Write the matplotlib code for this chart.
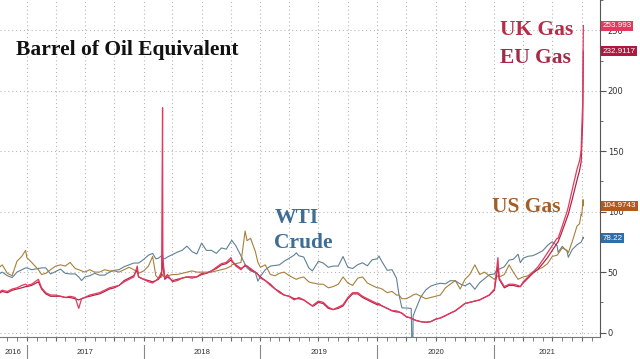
import pandas as pd
import matplotlib
matplotlib.use("Agg")
from matplotlib import pyplot as plt
import matplotlib.dates as mdates
import matplotlib.ticker as ticker
import matplotlib.transforms as mtransforms

# ---------------- data ($ per barrel of oil equivalent) -------------
dates = pd.to_datetime([
    # 2016
    "2016-10-03", "2016-10-16", "2016-11-01", "2016-11-16", "2016-12-01", "2016-12-16", "2016-12-28",
    # 2017
    "2017-01-01", "2017-01-16", "2017-02-06", "2017-02-16", "2017-03-01", "2017-03-16", "2017-04-01",
    "2017-04-16", "2017-05-01", "2017-05-16", "2017-06-01", "2017-06-12", "2017-06-21", "2017-07-01",
    "2017-07-16", "2017-08-01", "2017-08-16", "2017-09-01", "2017-09-16", "2017-10-01", "2017-10-16",
    "2017-11-01", "2017-11-16", "2017-12-01", "2017-12-12", "2017-12-16",
    # 2018
    "2018-01-01", "2018-01-16", "2018-01-29", "2018-02-08", "2018-02-16", "2018-02-26", "2018-03-01",
    "2018-03-02", "2018-03-08", "2018-03-16", "2018-04-01", "2018-04-16", "2018-05-01", "2018-05-16",
    "2018-06-01", "2018-06-16", "2018-07-01", "2018-07-16", "2018-08-01", "2018-08-16", "2018-09-01",
    "2018-09-16", "2018-10-01", "2018-10-03", "2018-10-16", "2018-11-01", "2018-11-14", "2018-11-20",
    "2018-12-01", "2018-12-16", "2018-12-24",
    # 2019
    "2019-01-01", "2019-01-16", "2019-02-01", "2019-02-16", "2019-03-01", "2019-03-16", "2019-04-01",
    "2019-04-16", "2019-04-23", "2019-05-01", "2019-05-16", "2019-06-01", "2019-06-12", "2019-06-16",
    "2019-07-01", "2019-07-16", "2019-08-01", "2019-08-16", "2019-09-01", "2019-09-16", "2019-10-01",
    "2019-10-16", "2019-11-01", "2019-11-16", "2019-12-01", "2019-12-16",
    # 2020
    "2020-01-01", "2020-01-06", "2020-01-16", "2020-02-01", "2020-02-16", "2020-03-01", "2020-03-09",
    "2020-03-18", "2020-04-01", "2020-04-16", "2020-04-20", "2020-04-22", "2020-05-01", "2020-05-16",
    "2020-06-01", "2020-06-16", "2020-07-01", "2020-07-16", "2020-08-01", "2020-08-16", "2020-09-01",
    "2020-09-16", "2020-10-01", "2020-10-16", "2020-11-01", "2020-11-16", "2020-12-01", "2020-12-16",
    # 2021
    "2021-01-01", "2021-01-12", "2021-01-16", "2021-02-01", "2021-02-16", "2021-03-01", "2021-03-16",
    "2021-03-23", "2021-04-01", "2021-04-16", "2021-05-01", "2021-05-16", "2021-06-01", "2021-06-16",
    "2021-07-01", "2021-07-16", "2021-07-19", "2021-08-01", "2021-08-16", "2021-08-20", "2021-09-01",
    "2021-09-16", "2021-09-24", "2021-09-29", "2021-10-01", "2021-10-04", "2021-10-05", "2021-10-06",
])

wti = [
    48, 50, 47, 45.5, 50, 52, 53.5,
    53.5, 52, 53, 53.5, 53.5, 48.5, 50.5, 52.5, 49, 48.5, 48.5, 46, 43, 46,
    47, 49, 47.5, 47.5, 50, 51.5, 52, 54.5, 56, 57.5, 57.5, 57.5,
    60.5, 64, 65.5, 61, 61.5, 63.5, 61.5, 61.3, 61, 62.5, 64.5, 66.5, 68, 71.5,
    67, 65, 74, 68, 68, 65.5, 70, 69, 75.3, 76.4, 71.8, 63.5, 56.2, 53.5, 51, 49.5, 42.5,
    46.5, 52, 55, 55.5, 56, 59, 61.5, 64, 66, 63.5, 62.5, 53.5, 51, 52.5,
    59, 57.5, 54, 55, 55, 62.9, 54, 53, 56.2, 57.7, 55.2, 60.2,
    61, 63.3, 58.5, 51.5, 52, 45, 31.1, 20.4, 20.3, 19.9, -37.6, 13.8, 19.8, 29.5,
    35.4, 38.4, 39.8, 40.8, 40.3, 42.9, 42.8, 40.2, 38.7, 40.9, 35.8, 41.3, 44.6, 47.8,
    48.5, 53.2, 52.4, 54.5, 60, 60.6, 64.8, 57.8, 61.5, 63.1, 63.6, 65.4, 67.7, 72.1,
    75.2, 71.8, 66.4, 71.3, 67.3, 62.3, 68.6, 72.6, 73.9, 74.8, 75.9, 77.6, 78.9, 78.22,
]

us_gas = [
    53, 56, 49, 47, 59, 63, 68,
    62, 58, 52, 48, 49, 52, 55, 56, 55, 58, 53, 52, 51, 50,
    52, 50, 50, 52, 51, 51, 50, 52, 54, 52, 50, 49,
    51, 55, 63, 47, 45, 46, 48, 47, 46, 47, 48, 48, 49, 50,
    51, 50, 50, 50, 50, 51, 52, 53, 55, 56, 57, 58, 84, 76, 78, 67, 58,
    54, 56, 48, 47, 49, 50, 47, 45, 44, 45, 46, 42, 41, 41,
    40, 40, 37, 38, 40, 46, 41, 39, 45, 46, 41, 39,
    37, 37, 36, 33, 34, 31, 31, 28, 28, 30, 31, 31, 32, 30,
    28, 29, 30, 31, 37, 40, 43, 36, 44, 48, 56, 48, 50, 47,
    44, 47, 46, 48, 56, 50, 44, 45, 46, 47, 50, 52, 54, 57,
    63, 64, 65, 70, 68, 66, 75, 88, 90, 98, 97, 106, 110, 104.9743,
]

uk_gas = [
    33, 35, 34, 36, 37, 39, 40,
    39, 40, 44, 37, 33, 31, 31, 30, 29, 30, 29, 20, 28, 29,
    31, 32, 33, 35, 37, 38, 39, 42, 44, 46, 55, 46,
    44, 42, 41, 43, 45, 50, 186, 62, 45, 48, 42, 43, 45, 46,
    45, 46, 49, 49, 51, 54, 57, 58, 62, 60, 55, 52, 56, 55, 53, 50, 48,
    45, 43, 39, 36, 33, 31, 30, 27, 28, 29, 27, 24, 22, 23,
    26, 25, 21, 19, 21, 23, 29, 33, 33, 30, 28, 26,
    24, 24, 22, 20, 18, 18, 17, 16, 13, 12, 11, 11, 10, 9,
    8.5, 9, 11, 12, 14, 16, 18, 21, 24, 25, 26, 27, 29, 31,
    36, 62, 45, 38, 40, 40, 39, 38, 42, 46, 50, 54, 60, 66,
    72, 78, 78, 88, 100, 104, 118, 135, 142, 150, 168, 190, 222, 253.993,
]

eu_gas = [
    32, 34, 33, 35, 36, 37, 38,
    38, 39, 42, 36, 32, 30, 30, 30, 29, 29, 28, 27, 28, 29,
    30, 31, 32, 34, 36, 37, 39, 43, 45, 47, 52, 46,
    44, 43, 42, 43, 44, 48, 64, 55, 44, 46, 43, 44, 45, 46,
    46, 46, 48, 49, 51, 53, 56, 57, 60, 59, 56, 53, 55, 55, 52, 50, 48,
    46, 43, 40, 36, 34, 31, 30, 28, 28, 28, 27, 24, 22, 22,
    25, 24, 20, 19, 20, 22, 28, 32, 32, 29, 27, 25,
    23, 23, 22, 20, 18, 17, 17, 16, 13, 12, 11, 11, 10, 9,
    8.5, 9, 11, 12, 14, 16, 18, 21, 24, 25, 26, 27, 29, 31,
    35, 55, 44, 37, 39, 39, 38, 38, 41, 45, 49, 52, 57, 62,
    68, 74, 75, 84, 95, 98, 110, 126, 134, 141, 155, 176, 205, 232.9117,
]

years = ["2016", "2017", "2018", "2019", "2020", "2021"]
last_labels = ["253.993", "232.9117", "104.9743", "78.22"]

# colours
c_uk = "#e23a5e"
c_eu = "#b3244a"
c_us = "#a8803a"
c_wti = "#5f8196"

# -- Plot ----------------------------------------------------------------------
fig = plt.figure(figsize=(6.4, 3.59), dpi=100, facecolor="white")
ax = fig.add_axes([0, 22 / 359, 600 / 640, 337 / 359])

x0, x1 = pd.Timestamp("2016-10-09"), pd.Timestamp("2021-11-27")
ax.set_xlim(x0, x1)
ax.set_ylim(-3.7, 275.2)

ax.plot(dates, wti, color=c_wti, lw=0.8, zorder=3)
ax.plot(dates, us_gas, color=c_us, lw=0.8, zorder=3)
ax.plot(dates, eu_gas, color=c_eu, lw=0.9, zorder=4)
ax.plot(dates, uk_gas, color=c_uk, lw=0.9, zorder=5)

# grid + ticks
ax.xaxis.set_major_locator(mdates.MonthLocator(bymonth=[1, 4, 7, 10]))
ax.xaxis.set_minor_locator(mdates.MonthLocator())
ax.yaxis.set_major_locator(ticker.MultipleLocator(50))
ax.yaxis.set_minor_locator(ticker.MultipleLocator(25))
ax.grid(True, which="major", color="#b8b8b8", linestyle=(0, (1, 2.5)), linewidth=0.8)
ax.set_axisbelow(True)

ax.yaxis.tick_right()
ax.tick_params(axis="y", which="major", length=4, direction="out", pad=1.5,
               labelsize=6, labelcolor="#333333", color="#555555")
ax.tick_params(axis="y", which="minor", length=2, direction="out", color="#555555")
ax.tick_params(axis="x", which="both", length=3, direction="out", color="#666666",
               labelbottom=False)

for s in ["top", "left"]:
    ax.spines[s].set_visible(False)
ax.spines["bottom"].set_color("#777777")
ax.spines["right"].set_color("#555555")
ax.spines["bottom"].set_linewidth(0.8)
ax.spines["right"].set_linewidth(0.8)

# year labels and separators below the axis
trans = mtransforms.blended_transform_factory(ax.transData, ax.transAxes)
for yr in years:
    start = max(pd.Timestamp(f"{yr}-01-01"), x0)
    end = min(pd.Timestamp(f"{int(yr) + 1}-01-01"), x1)
    mid = start + (end - start) / 2
    ax.text(mid, -0.045, yr, transform=trans, ha="center", va="center",
            fontsize=5.5, color="#333333", family="Liberation Sans")
    if pd.Timestamp(f"{yr}-01-01") > x0:
        ax.plot([pd.Timestamp(f"{yr}-01-01")] * 2, [-0.024, -0.07], transform=trans,
                color="#888888", lw=0.8, clip_on=False)

# last value boxes on the right axis
trans_r = mtransforms.blended_transform_factory(ax.transAxes, ax.transData)
for val, txt, col in zip([uk_gas[-1], eu_gas[-1], us_gas[-1], wti[-1]], last_labels,
                         [c_uk, "#b0183f", "#b5581c", "#2f6ea8"]):
    ax.text(1.004, val, txt, transform=trans_r, ha="left", va="center", fontsize=5.8,
            family="Liberation Sans", color="white", clip_on=False, zorder=10,
            bbox=dict(boxstyle="square,pad=0.2", fc=col, ec="none"))

# annotations
serif = dict(family="Liberation Serif", weight="bold", fontsize=15.5)
fig.text(16 / 640, 1 - 55 / 359, "Barrel of Oil Equivalent", color="#111111",
         va="baseline", ha="left", **serif)
fig.text(500 / 640, 1 - 35 / 359, "UK Gas", color="#b52d4b", va="baseline", ha="left", **serif)
fig.text(500 / 640, 1 - 63 / 359, "EU Gas", color="#a52a48", va="baseline", ha="left", **serif)
fig.text(492 / 640, 1 - 212 / 359, "US Gas", color="#a35d27", va="baseline", ha="left", **serif)
fig.text(275 / 640, 1 - 223 / 359, "WTI", color="#3f6e95", va="baseline", ha="left", **serif)
fig.text(274 / 640, 1 - 248 / 359, "Crude", color="#3f6e95", va="baseline", ha="left", **serif)

fig.savefig("out.png", dpi=100, facecolor="white")
